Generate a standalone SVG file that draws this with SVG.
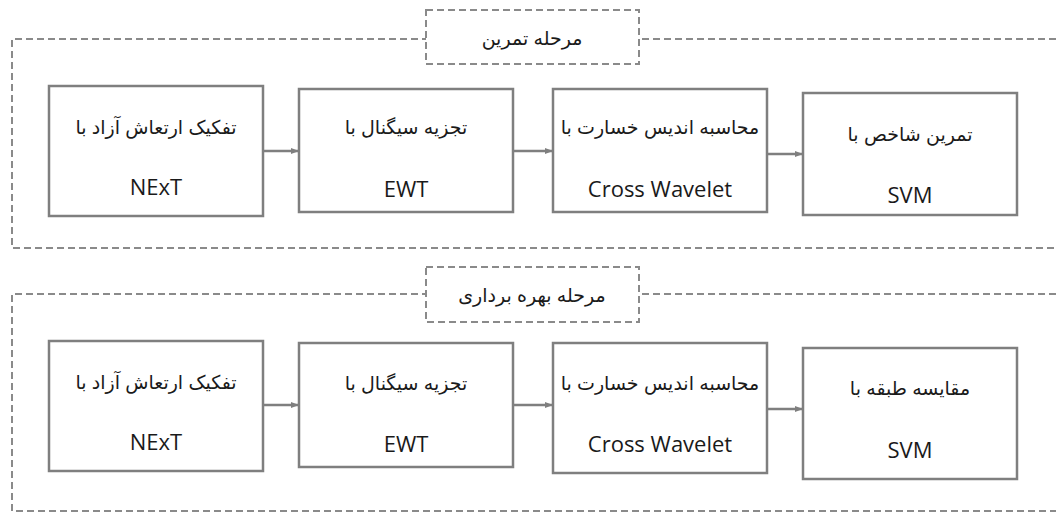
<svg xmlns="http://www.w3.org/2000/svg" width="1056" height="513" viewBox="0 0 1056 513">
<style>
.frame{fill:none;stroke:#8a8a8a;stroke-width:2;stroke-dasharray:7,4}
.lbl{fill:#fff;stroke:#8a8a8a;stroke-width:2;stroke-dasharray:7,4}
.box{fill:#fff;stroke:#7f7f7f;stroke-width:2.5}
.fa{font-family:"Liberation Sans","DejaVu Sans",sans-serif;font-size:19px;fill:#1a1a1a;text-anchor:middle}
.en{font-family:"Open Sans","Noto Sans",sans-serif;font-size:22px;fill:#1a1a1a;text-anchor:middle}
.arr{stroke:#7f7f7f;stroke-width:2.5;fill:none;marker-end:url(#ah)}
</style>
<defs>
<marker id="ah" markerWidth="8" markerHeight="8" refX="7" refY="4" orient="auto" markerUnits="userSpaceOnUse">
<path d="M0,1 L8,4 L0,7 Z" fill="#7f7f7f"/>
</marker>
</defs>
<rect width="1056" height="513" fill="#fff"/>
<g id="frame-train">
<path class="frame" d="M1056,39 H12 V248 H1056"/>
<rect class="lbl" x="426" y="10" width="213" height="54"/>
<text class="fa" x="532" y="45">مرحله تمرین</text>
</g>
<g id="frame-exploit">
<path class="frame" d="M1056,294 H12 V511 H1056"/>
<rect class="lbl" x="426" y="267" width="213" height="55"/>
<text class="fa" x="532" y="302">مرحله بهره برداری</text>
</g>
<g id="t1"><rect class="box" x="49" y="86" width="214" height="130"/><text class="fa" x="156" y="134">تفکیک ارتعاش آزاد با</text><text class="en" x="156" y="195">NExT</text></g>
<g id="t2"><rect class="box" x="299" y="89" width="214" height="123"/><text class="fa" x="406" y="134">تجزیه سیگنال با</text><text class="en" x="406" y="197">EWT</text></g>
<g id="t3"><rect class="box" x="553" y="89" width="214" height="123"/><text class="fa" x="660" y="134">محاسبه اندیس خسارت با</text><text class="en" x="660" y="197">Cross Wavelet</text></g>
<g id="t4"><rect class="box" x="803" y="93" width="214" height="122"/><text class="fa" x="910" y="141">تمرین شاخص با</text><text class="en" x="910" y="203">SVM</text></g>
<g id="e1"><rect class="box" x="49" y="341" width="214" height="130"/><text class="fa" x="156" y="389">تفکیک ارتعاش آزاد با</text><text class="en" x="156" y="450">NExT</text></g>
<g id="e2"><rect class="box" x="299" y="343" width="214" height="124"/><text class="fa" x="406" y="390">تجزیه سیگنال با</text><text class="en" x="406" y="452">EWT</text></g>
<g id="e3"><rect class="box" x="553" y="343" width="214" height="130"/><text class="fa" x="660" y="390">محاسبه اندیس خسارت با</text><text class="en" x="660" y="452">Cross Wavelet</text></g>
<g id="e4"><rect class="box" x="803" y="348" width="214" height="131"/><text class="fa" x="910" y="395">مقایسه طبقه با</text><text class="en" x="910" y="458">SVM</text></g>
<g id="connectors">
<line class="arr" x1="263" y1="151" x2="298" y2="151"/>
<line class="arr" x1="513" y1="151" x2="552" y2="151"/>
<line class="arr" x1="767" y1="154" x2="802" y2="154"/>
<line class="arr" x1="263" y1="405" x2="298" y2="405"/>
<line class="arr" x1="513" y1="405" x2="552" y2="405"/>
<line class="arr" x1="767" y1="409" x2="802" y2="409"/>
</g>
</svg>
